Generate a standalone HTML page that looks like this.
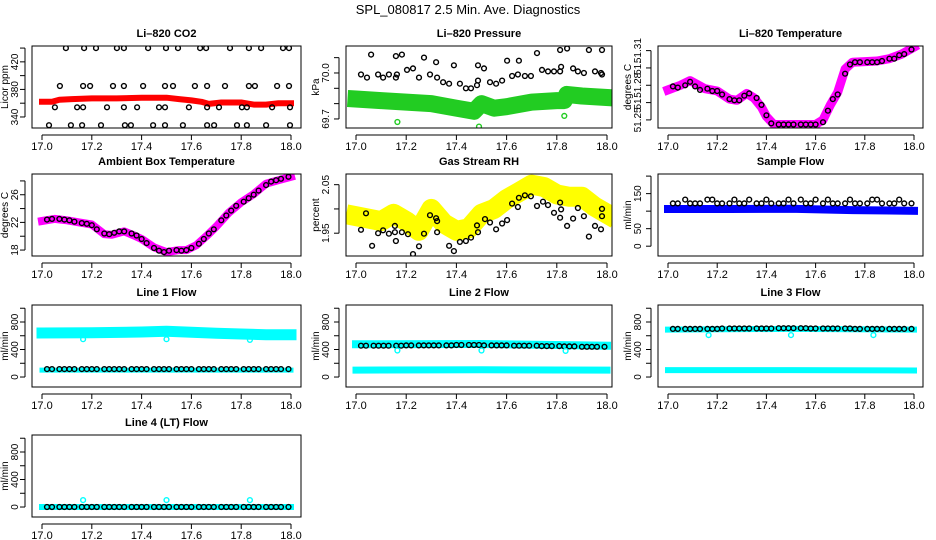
<!DOCTYPE html>
<html><head><meta charset="utf-8">
<style>
html,body{margin:0;padding:0;background:#fff;}
svg{display:block;font-family:"Liberation Sans",Arial,sans-serif;}
</style></head>
<body>
<svg id="chart" width="936" height="540" viewBox="0 0 936 540" xmlns="http://www.w3.org/2000/svg">
<text x="468" y="14" font-size="13" text-anchor="middle">SPL_080817  2.5 Min. Ave. Diagnostics</text>
</svg>
<script>
// ---------- data ----------
const xTickVals=[17.0,17.2,17.4,17.6,17.8,18.0];
const xTickLabels=["17.0","17.2","17.4","17.6","17.8","18.0"];
const circT=[17.02,17.04,17.07,17.09,17.11,17.13,17.16,17.18,17.20,17.22,17.25,17.27,17.29,17.31,17.33,17.36,17.38,17.40,17.42,17.45,17.47,17.49,17.51,17.54,17.56,17.58,17.60,17.63,17.65,17.67,17.69,17.72,17.74,17.76,17.78,17.81,17.83,17.85,17.87,17.90,17.92,17.94,17.96,17.99];

// Panel 1 CO2
const co2BandT=[17.0,17.04,17.07,17.12,17.2,17.3,17.4,17.5,17.55,17.6,17.64,17.67,17.72,17.8,17.85,17.9,17.95,18.0];
const co2BandV=[362,362,365,366,367,367,368,368,366,364,362,359,361,361,358,358,360,360];
const co2PtT=[17.096,17.169,17.217,17.301,17.329,17.426,17.498,17.546,17.635,17.659,17.755,17.831,17.88,17.968,17.992,
17.072,17.165,17.193,17.285,17.329,17.406,17.494,17.526,17.614,17.663,17.735,17.831,17.855,17.944,17.992,
17.052,17.141,17.165,17.261,17.329,17.382,17.47,17.494,17.59,17.663,17.711,17.803,17.823,17.924,17.996,
17.028,17.116,17.161,17.237,17.333,17.357,17.446,17.494,17.566,17.663,17.691,17.783,17.823,17.9,17.996];
const co2PtV=[440,440,440,440,440,440,440,440,440,440,440,440,440,440,440,
385,385,385,385,385,385,385,385,385,385,385,385,385,385,385,
354,354,354,354,354,354,354,354,354,354,354,354,354,354,354,
328,328,328,328,328,328,328,328,328,328,328,328,328,328,328];

// Panel 2 Pressure
const presBandT=[17.0,17.1,17.2,17.3,17.4,17.47,17.5,17.55,17.6,17.7,17.8,17.83,17.84,17.9,18.0];
const presBandV=[69.83,69.82,69.81,69.80,69.77,69.75,69.80,69.77,69.78,69.81,69.82,69.82,69.86,69.85,69.84];
const presPtT=[17.020,17.044,17.060,17.088,17.108,17.131,17.159,17.159,17.163,17.183,17.203,17.227,17.251,17.271,17.295,17.319,17.323,17.347,17.371,17.390,17.414,17.438,17.458,17.482,17.486,17.486,17.510,17.534,17.558,17.582,17.602,17.622,17.645,17.649,17.673,17.697,17.721,17.741,17.765,17.789,17.813,17.817,17.813,17.841,17.865,17.884,17.908,17.928,17.952,17.976,17.980,17.980];
const presPtV=[69.99,69.97,70.12,69.99,69.97,69.99,69.97,70.11,69.99,70.12,70.02,70.03,69.97,70.10,69.99,70.07,69.97,69.94,69.93,70.05,69.93,69.90,69.90,69.92,69.95,70.05,70.03,69.94,69.93,69.95,70.08,69.98,69.99,70.08,69.98,69.98,70.13,70.02,70.01,70.01,70.01,70.04,70.15,70.16,70.03,70.01,70.00,70.15,70.01,70.00,70.15,69.99];
const presOutT=[17.165,17.49,17.83];
const presOutV=[69.68,69.65,69.72];

// Panel 3 Li-820 temperature
const ltBandT=[17.0,17.05,17.09,17.15,17.2,17.25,17.28,17.32,17.35,17.38,17.4,17.43,17.5,17.6,17.63,17.66,17.69,17.72,17.75,17.85,17.9,17.95,18.0];
const ltBandV=[51.276,51.280,51.284,51.277,51.275,51.268,51.267,51.273,51.269,51.261,51.253,51.246,51.246,51.246,51.250,51.263,51.274,51.294,51.300,51.301,51.303,51.307,51.313];
const ltPtV=[51.279,51.278,51.280,51.283,51.279,51.276,51.277,51.275,51.275,51.272,51.268,51.267,51.267,51.271,51.273,51.269,51.263,51.254,51.247,51.246,51.246,51.246,51.246,51.246,51.246,51.246,51.246,51.248,51.258,51.268,51.272,51.290,51.298,51.300,51.300,51.300,51.300,51.300,51.301,51.303,51.303,51.306,51.307,51.311];

// Panel 4 Ambient box temperature
const ambBandT=[17.0,17.05,17.1,17.15,17.2,17.25,17.28,17.33,17.37,17.4,17.45,17.5,17.55,17.58,17.62,17.66,17.7,17.75,17.8,17.85,17.9,17.95,18.0];
const ambBandV=[22.2,22.5,22.3,22.0,21.7,20.3,20.2,20.7,20.1,19.6,18.4,17.7,18.0,18.0,18.7,20.0,21.4,23.4,24.9,26.1,27.6,28.1,28.6];
const ambPtV=[22.4,22.5,22.5,22.4,22.3,22.1,21.9,21.8,21.6,21.0,20.4,20.3,20.5,20.7,20.7,20.4,20.1,19.6,19.0,18.3,17.9,17.7,17.9,18.0,17.9,18.0,18.3,18.9,19.6,20.4,21.0,22.3,23.0,23.7,24.4,25.0,25.5,26.0,26.6,27.4,27.9,28.1,28.3,28.6];

// Panel 5 Gas stream RH
const rhBandT=[17.0,17.1,17.15,17.2,17.25,17.3,17.35,17.4,17.45,17.5,17.55,17.6,17.65,17.7,17.75,17.8,17.85,17.9,17.95,18.0];
const rhBandV=[1.985,1.975,1.99,1.975,1.955,2.0,1.97,1.955,1.96,1.99,2.0,2.02,2.035,2.05,2.045,2.03,2.025,2.025,2.005,1.99];
const rhPtT=[17.020,17.040,17.064,17.088,17.108,17.131,17.155,17.159,17.155,17.183,17.207,17.227,17.251,17.271,17.295,17.319,17.323,17.323,17.371,17.390,17.414,17.438,17.458,17.482,17.486,17.514,17.534,17.558,17.582,17.602,17.622,17.645,17.649,17.673,17.697,17.721,17.745,17.765,17.789,17.813,17.817,17.813,17.841,17.865,17.884,17.908,17.928,17.952,17.976,17.980,17.980];
const rhPtV=[1.957,1.991,1.924,1.950,1.956,1.949,1.965,1.934,1.952,1.952,1.948,1.907,1.923,1.949,1.987,1.981,1.975,1.952,1.924,1.913,1.932,1.934,1.941,1.966,1.952,1.979,1.972,1.958,1.970,1.977,2.011,2.004,2.023,2.028,2.026,2.006,2.015,2.008,1.992,2.013,1.999,1.982,1.965,1.980,2.002,1.985,1.943,1.965,1.958,1.985,2.000];

// Panel 6 Sample flow
const sfBandT=[17.0,17.25,17.5,17.75,18.0];
const sfBandV=[106,106,107,103,101];
const sfPtV=[122,122,133,122,122,122,133,133,122,122,122,133,122,122,133,122,122,133,122,122,122,133,122,133,122,122,133,122,133,122,122,122,133,122,122,122,133,133,122,122,122,133,122,122];

// Line flows (rows 3 and 4)
const l1HighT=[17.0,17.2,17.4,17.5,17.6,17.7,17.8,17.9,18.0];
const l1HighV=[640,645,655,665,650,635,625,615,615];
const lowT=[17.0,17.5,18.0];
const l1LowV=[100,100,100];
const l1PtV=[115,115,115,115,115,115,115,115,115,115,115,115,115,115,115,115,115,115,115,115,115,115,115,115,115,115,115,115,115,115,115,115,115,115,115,115,115,115,115,115,115,115,115,115];
const outT=[17.165,17.5,17.835];
const l1OutV=[550,550,540];
const l2HighT=[17.0,17.5,18.0];
const l2HighV=[475,480,455];
const l2LowV=[100,105,100];
const l2PtV=[455,455,455,455,455,455,455,455,460,460,460,460,460,460,460,460,460,465,465,465,465,465,460,460,460,460,460,455,455,455,455,455,450,450,450,450,445,445,445,440,440,440,440,440];
const l2OutV=[385,385,380];
const l3HighT=[17.0,17.5,18.0];
const l3HighV=[690,700,690];
const l3LowV=[100,100,95];
const l3PtV=[700,700,700,700,700,700,700,700,700,705,705,705,705,705,705,705,705,705,705,710,710,710,710,710,710,705,705,705,705,705,705,705,705,700,700,700,700,700,700,700,700,700,700,700];
const l3OutV=[610,610,610];
const l4LineT=[17.0,18.0];
const l4LineV=[0,0];
const l4PtV=[0,0,0,0,0,0,0,0,0,0,0,0,0,0,0,0,0,0,0,0,0,0,0,0,0,0,0,0,0,0,0,0,0,0,0,0,0,0,0,0,0,0,0,0];
const l4OutV=[100,100,100];

// ---------- layout ----------
const colL=[32,346,658], colR=[301,612,923];
const colX17=[42,356,668], colX18=[291,607,914];
const rowT=[46,174,305,435], boxH=82;
const flowTicks=[0,200,400,600,800,1000], flowLabels=["0","","400","","800",""];

const panels=[
 {name:"li820-co2",title:"Li\u2013820 CO2",ylab:"Licor ppm",c:0,r:0,ylim:[324,443],ticks:[340,360,380,400,420,440],labels:["340","","380","","420",""],
  bands:[{t:co2BandT,v:co2BandV,color:"#ff0000",w:6}],pts:[{t:co2PtT,v:co2PtV,color:"#000"}]},
 {name:"li820-pressure",title:"Li\u2013820 Pressure",ylab:"kPa",c:1,r:0,ylim:[69.641,70.176],ticks:[69.7,69.8,69.9,70.0,70.1],labels:["69.7","","","70.0",""],
  bands:[{t:presBandT,v:presBandV,color:"#22cc22",w:17}],pts:[{t:presPtT,v:presPtV,color:"#000"},{t:presOutT,v:presOutV,color:"#22cc22"}]},
 {name:"li820-temperature",title:"Li\u2013820 Temperature",ylab:"degrees C",c:2,r:0,ylim:[51.243,51.314],ticks:[51.25,51.265,51.28,51.295,51.31],labels:["51.25","51.","51.28","51.","51.31"],
  bands:[{t:ltBandT,v:ltBandV,color:"#ff00ff",w:9}],pts:[{t:circT,v:ltPtV,color:"#000"}]},
 {name:"ambient-box-temperature",title:"Ambient Box Temperature",ylab:"degrees C",c:0,r:1,ylim:[17.14,29.0],ticks:[18,20,22,24,26,28],labels:["18","","22","","26",""],
  bands:[{t:ambBandT,v:ambBandV,color:"#ff00ff",w:8}],pts:[{t:circT,v:ambPtV,color:"#000"}]},
 {name:"gas-stream-rh",title:"Gas Stream RH",ylab:"percent",c:1,r:1,ylim:[1.903,2.072],ticks:[1.95,2.0,2.05],labels:["1.95","","2.05"],
  bands:[{t:rhBandT,v:rhBandV,color:"#ffff00",w:20}],pts:[{t:rhPtT,v:rhPtV,color:"#000"}]},
 {name:"sample-flow",title:"Sample Flow",ylab:"ml/min",c:2,r:1,ylim:[-28,206],ticks:[0,50,100,150,200],labels:["0","50","","150",""],
  bands:[{t:sfBandT,v:sfBandV,color:"#0000ff",w:8}],pts:[{t:circT,v:sfPtV,color:"#000"}]},
 {name:"line1-flow",title:"Line 1 Flow",ylab:"ml/min",c:0,r:2,ylim:[-145,1047],ticks:flowTicks,labels:flowLabels,
  bands:[{t:l1HighT,v:l1HighV,color:"#00ffff",w:11},{t:lowT,v:l1LowV,color:"#00ffff",w:5}],pts:[{t:circT,v:l1PtV,color:"#000"},{t:outT,v:l1OutV,color:"#00ffff"}]},
 {name:"line2-flow",title:"Line 2 Flow",ylab:"ml/min",c:1,r:2,ylim:[-145,1047],ticks:flowTicks,labels:flowLabels,
  bands:[{t:l2HighT,v:l2HighV,color:"#00ffff",w:8},{t:lowT,v:l2LowV,color:"#00ffff",w:7}],pts:[{t:circT,v:l2PtV,color:"#000"},{t:outT,v:l2OutV,color:"#00ffff"}]},
 {name:"line3-flow",title:"Line 3 Flow",ylab:"ml/min",c:2,r:2,ylim:[-145,1047],ticks:flowTicks,labels:flowLabels,
  bands:[{t:l3HighT,v:l3HighV,color:"#00ffff",w:6},{t:lowT,v:l3LowV,color:"#00ffff",w:6}],pts:[{t:circT,v:l3PtV,color:"#000"},{t:outT,v:l3OutV,color:"#00ffff"}]},
 {name:"line4-flow",title:"Line 4 (LT) Flow",ylab:"ml/min",c:0,r:3,ylim:[-145,1047],ticks:flowTicks,labels:flowLabels,
  bands:[{t:l4LineT,v:l4LineV,color:"#00ffff",w:6}],pts:[{t:circT,v:l4PtV,color:"#000"},{t:outT,v:l4OutV,color:"#00ffff"}]}
];

const NS="http://www.w3.org/2000/svg";
const svg=document.getElementById("chart");
function mk(tag,attrs,parent){const e=document.createElementNS(NS,tag);for(const k in attrs)e.setAttribute(k,attrs[k]);(parent||svg).appendChild(e);return e;}

panels.forEach(p=>{
  const L=colL[p.c],R=colR[p.c],W=R-L,T=rowT[p.r],B=T+boxH;
  const x0=colX17[p.c],x1=colX18[p.c];
  const xs=t=>x0+(t-17)*(x1-x0);
  const ys=v=>B-(v-p.ylim[0])/(p.ylim[1]-p.ylim[0])*boxH;
  const g=mk("g",{});
  
  
  const clipId="clip-"+p.name;
  const cp=mk("clipPath",{id:clipId},g);
  mk("rect",{x:L,y:T,width:W,height:boxH},cp);
  const title=mk("text",{x:(L+R)/2,y:T-9,"font-size":"11","font-weight":"bold","text-anchor":"middle"},g);
  title.textContent=p.title;
  
  
  const data=mk("g",{"clip-path":"url(#"+clipId+")"},g);
  
  
  p.bands.forEach(b=>{
    const d=b.t.map((t,i)=>(i?"L":"M")+xs(t).toFixed(1)+" "+ys(b.v[i]).toFixed(1)).join(" ");
    const path=mk("path",{d:d,fill:"none",stroke:b.color,"stroke-width":b.w,"stroke-linejoin":"round","stroke-linecap":"square"},data);
    
    
  });
  p.pts.forEach(s=>{
    s.t.forEach((t,i)=>{
      const c=mk("circle",{cx:xs(t).toFixed(1),cy:ys(s.v[i]).toFixed(1),r:2.4,fill:"none",stroke:s.color,"stroke-width":1.4},data);
      
      
    });
  });
  const box=mk("rect",{x:L,y:T,width:W,height:boxH,fill:"none",stroke:"#000","stroke-width":1},g);
  
  
  // x axis
  const xa=mk("g",{},g);
  
  
  mk("line",{x1:xs(xTickVals[0]),x2:xs(xTickVals[xTickVals.length-1]),y1:B+7,y2:B+7,stroke:"#000"},xa);
  xTickVals.forEach((t,i)=>{
    mk("line",{x1:xs(t),x2:xs(t),y1:B+7,y2:B+12,stroke:"#000"},xa);
    const tx=mk("text",{x:xs(t),y:B+22,"font-size":"11","text-anchor":"middle"},xa);
    tx.textContent=xTickLabels[i];
  });
  // y axis
  const ya=mk("g",{},g);
  
  
  const ax=L-7;
  mk("line",{x1:ax,x2:ax,y1:ys(p.ticks[0]),y2:ys(p.ticks[p.ticks.length-1]),stroke:"#000"},ya);
  const lx=p.c===0?L-14:L-17;
  p.ticks.forEach((v,i)=>{
    const y=ys(v);
    mk("line",{x1:ax-5,x2:ax,y1:y,y2:y,stroke:"#000"},ya);
    if(p.labels[i]){
      const tx=mk("text",{x:lx,y:y,"font-size":"10","text-anchor":"middle",transform:"rotate(-90 "+lx+" "+y+")"},ya);
      tx.textContent=p.labels[i];
    }
  });
  const yl=p.c===0?L-24:L-27, ym=(T+B)/2;
  const ylab=mk("text",{x:yl,y:ym,"font-size":"10","text-anchor":"middle",transform:"rotate(-90 "+yl+" "+ym+")"},g);
  ylab.textContent=p.ylab;
  
  
});
</script>
</body></html>
